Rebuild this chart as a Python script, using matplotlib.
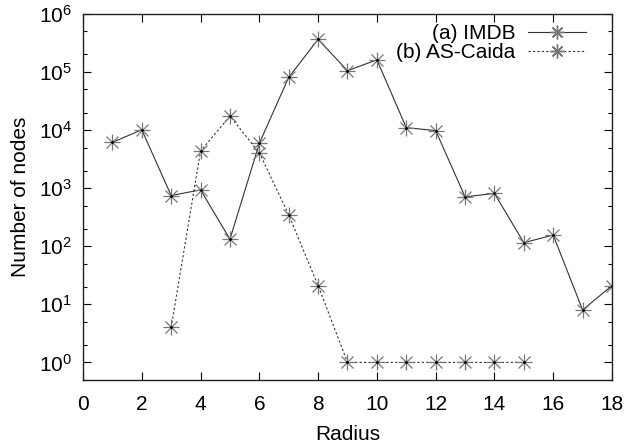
import matplotlib
matplotlib.use("Agg")
import matplotlib.pyplot as plt
from matplotlib.lines import Line2D
from matplotlib.ticker import LogLocator, NullFormatter, FixedLocator

# Data
imdb_radius = [1, 2, 3, 4, 5, 6, 7, 8, 9, 10, 11, 12, 13, 14, 15, 16, 17, 18]
imdb_nodes = [6150, 10100, 745, 935, 132, 5900, 81000, 365000, 105000, 162000,
              11000, 9800, 710, 810, 115, 156, 8, 21]

caida_radius = [3, 4, 5, 6, 7, 8, 9, 10, 11, 12, 13, 14, 15]
caida_nodes = [4, 4350, 17400, 4060, 347, 21, 1, 1, 1, 1, 1, 1, 1]

x_ticks = [0, 2, 4, 6, 8, 10, 12, 14, 16, 18]

plt.rcParams["font.family"] = ["Liberation Sans", "DejaVu Sans"]
plt.rcParams["mathtext.fontset"] = "custom"
plt.rcParams["mathtext.rm"] = "Liberation Sans"
plt.rcParams["mathtext.it"] = "Liberation Sans:italic"

FONT = 15
LINE_COLOR = "#333333"
MARK_COLOR = "#777777"

fig = plt.figure(figsize=(6.26, 4.48), dpi=100)
ax = fig.add_axes([0.1326, 0.152, 0.845, 0.817])


def draw_series(x, y, ls):
    # gnuplot style asterisk: '+' and 'x' on top of each other
    ax.plot(x, y, color=LINE_COLOR, linestyle=ls, linewidth=0.8)
    ax.plot(x, y, linestyle="none", marker="+", markersize=11,
            markeredgewidth=0.9, color=MARK_COLOR)
    ax.plot(x, y, linestyle="none", marker="x", markersize=8,
            markeredgewidth=0.9, color=MARK_COLOR)
    ax.plot(x, y, linestyle="none", marker=".", markersize=2, color="black")


draw_series(imdb_radius, imdb_nodes, "-")
draw_series(caida_radius, caida_nodes, (0, (2, 2)))

ax.set_yscale("log")
ax.set_xlim(0, 18)
ax.set_ylim(0.5, 1e6)
ax.xaxis.set_major_locator(FixedLocator(x_ticks))
ax.yaxis.set_major_locator(LogLocator(base=10, numticks=10))
ax.yaxis.set_minor_locator(LogLocator(base=10, subs=(2, 5), numticks=10))
ax.yaxis.set_minor_formatter(NullFormatter())

ax.tick_params(which="both", direction="in", top=True, right=True,
               labelsize=FONT, width=0.8)
ax.tick_params(which="major", length=6)
ax.tick_params(axis="x", which="major", pad=11)
ax.tick_params(axis="y", which="major", pad=8)
ax.tick_params(which="minor", length=3)
for s in ax.spines.values():
    s.set_linewidth(1.0)
    s.set_color("#222222")

ax.set_xlabel("Radius", fontsize=FONT, labelpad=8)
ax.set_ylabel("Number of nodes", fontsize=FONT, labelpad=6)

# legend handles with the asterisk marker
h1 = Line2D([], [], color=LINE_COLOR, linestyle="-", linewidth=0.8,
            marker=(8, 2, 0), markersize=10, markeredgecolor=MARK_COLOR)
h2 = Line2D([], [], color=LINE_COLOR, linestyle=(0, (2, 2)), linewidth=0.8,
            marker=(8, 2, 0), markersize=10, markeredgecolor=MARK_COLOR)
ax.legend([h1, h2], ["(a) IMDB", "(b) AS-Caida"], loc="upper right",
          bbox_to_anchor=(0.951, 0.972), frameon=False, markerfirst=False,
          fontsize=FONT, handlelength=2.8, borderaxespad=0, borderpad=0,
          labelspacing=0.0, handletextpad=0.6)

fig.savefig("out.png", dpi=100)
